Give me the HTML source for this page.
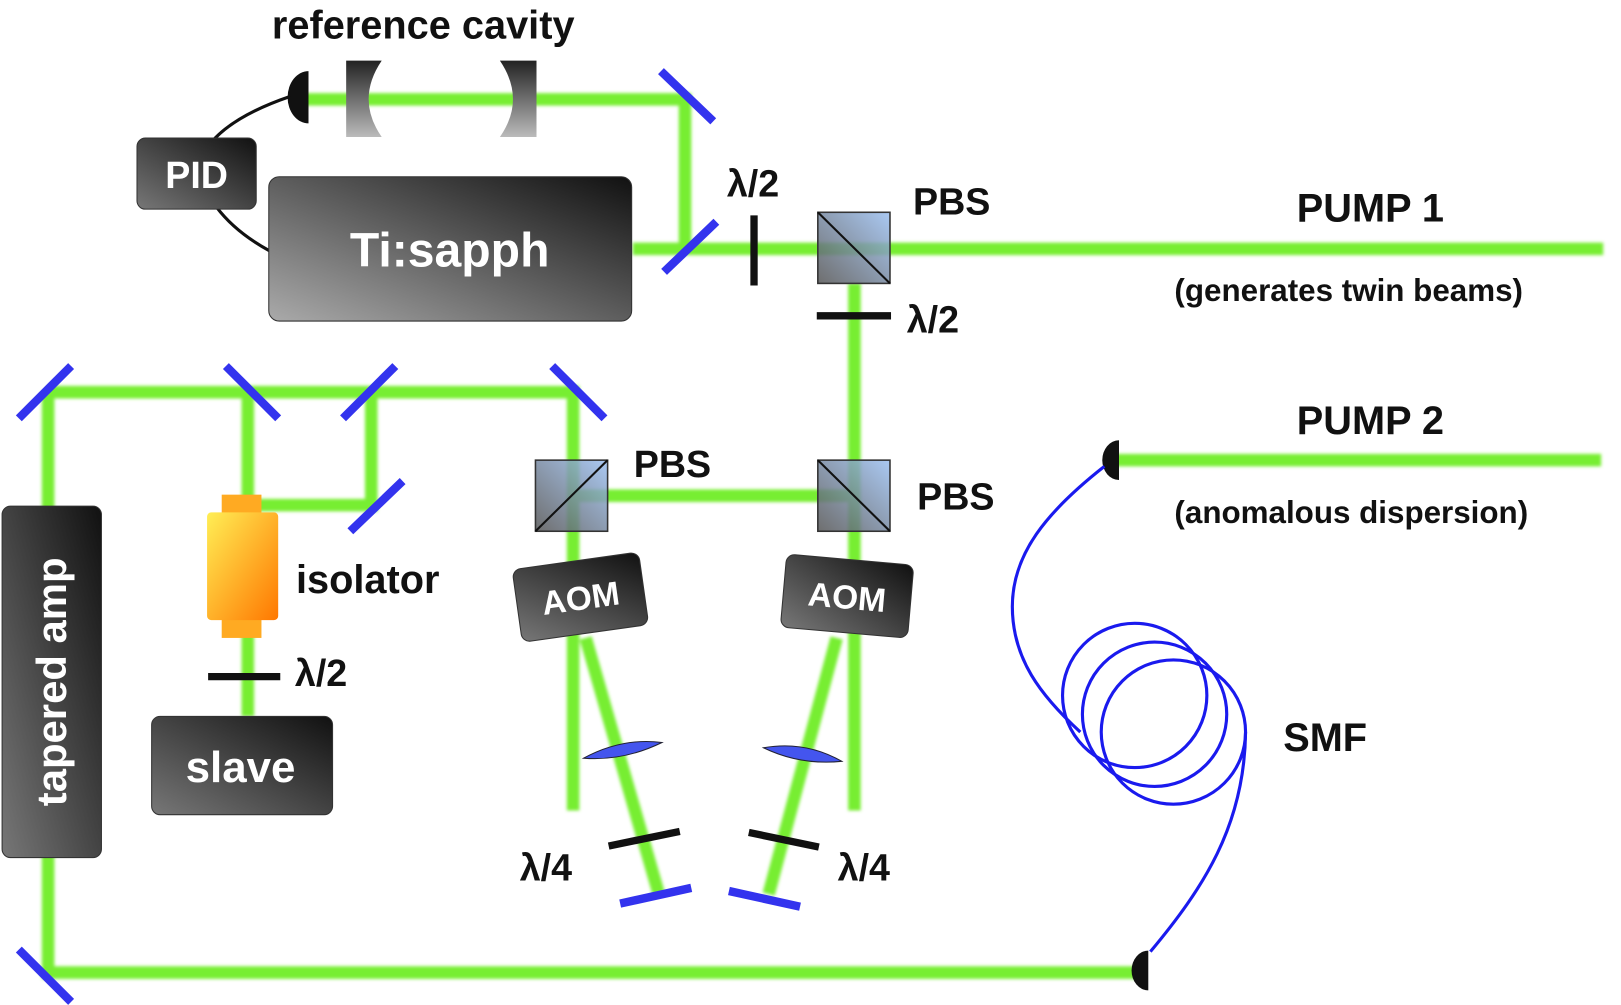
<!DOCTYPE html>
<html><head><meta charset="utf-8"><style>
html,body{margin:0;padding:0;background:#fff;}
svg{display:block;}
text{font-family:"Liberation Sans",sans-serif;font-weight:bold;}
</style></head><body>
<svg width="1621" height="1005" viewBox="0 0 1550 961" preserveAspectRatio="none" xmlns="http://www.w3.org/2000/svg">
<defs>
<linearGradient id="gb" x1="0" y1="1" x2="1" y2="0"><stop offset="0" stop-color="#aaa"/><stop offset="1" stop-color="#111"/></linearGradient>
<linearGradient id="gs" x1="0" y1="1" x2="1" y2="0"><stop offset="0" stop-color="#777"/><stop offset="1" stop-color="#111"/></linearGradient>
<linearGradient id="gi" x1="0" y1="0" x2="1" y2="1"><stop offset="0" stop-color="#ffee55"/><stop offset="1" stop-color="#ff7700"/></linearGradient>
<linearGradient id="gc" x1="0" y1="0" x2="0" y2="1"><stop offset="0" stop-color="#222"/><stop offset="1" stop-color="#bbb"/></linearGradient>
<linearGradient id="gp" x1="0" y1="1" x2="1" y2="0"><stop offset="0" stop-color="#555"/><stop offset="1" stop-color="#9bbff0"/></linearGradient>
<filter id="bl" x="-5%" y="-5%" width="110%" height="110%"><feGaussianBlur stdDeviation="1.5"/></filter>
</defs>
<g stroke="#77ee33" stroke-width="12" fill="none" filter="url(#bl)" stroke-linecap="butt">
<path d="M290 95 H655 V238"/>
<path d="M605 238 H1533"/>
<path d="M817 271 V775"/>
<path d="M547 474 H817"/>
<path d="M46 375 H548 V775"/>
<path d="M46 375 V930 H1090"/>
<path d="M237 375 V685"/>
<path d="M355 375 V483 H237"/>
<path d="M560 610 L630 855"/>
<path d="M800 610 L735 855"/>
<path d="M1065 440 H1531"/>
</g>
<!-- cavity -->
<path d="M331 58 H365 Q340 95 365 131 H331 Z" fill="url(#gc)"/>
<path d="M513 58 H478 Q503 95 478 131 H513 Z" fill="url(#gc)"/>
<!-- detectors -->
<path d="M295 68 A20 25 0 0 0 295 118 Z" fill="#111"/>
<path d="M1070 421 A16 19 0 0 0 1070 459 Z" fill="#111"/>
<path d="M1098 909 A16 19 0 0 0 1098 947 Z" fill="#111"/>
<!-- wires -->
<path d="M278 92 Q225 110 203 135" stroke="#111" stroke-width="3" fill="none"/>
<path d="M207 198 Q225 222 258 240" stroke="#111" stroke-width="3" fill="none"/>
<!-- boxes -->
<rect x="131" y="132" width="114" height="68" rx="8" fill="url(#gs)" stroke="#333"/>
<text x="188" y="180" font-size="36" fill="#fff" text-anchor="middle">PID</text>
<rect x="257" y="169" width="347" height="138" rx="10" fill="url(#gb)" stroke="#333"/>
<text x="430" y="255" font-size="46" fill="#fff" text-anchor="middle">Ti:sapph</text>
<rect x="2" y="484" width="95" height="336" rx="8" fill="url(#gs)" stroke="#333"/>
<text transform="translate(63,652) rotate(-90)" font-size="40" fill="#fff" text-anchor="middle">tapered amp</text>
<rect x="145" y="685" width="173" height="94" rx="8" fill="url(#gs)" stroke="#333"/>
<text x="230" y="748" font-size="42" fill="#fff" text-anchor="middle">slave</text>
<!-- isolator -->
<rect x="212" y="473" width="38" height="137" fill="#ffaa22"/>
<rect x="198" y="490" width="68" height="103" rx="4" fill="url(#gi)"/>
<text x="283" y="567" font-size="38" fill="#111">isolator</text>
<!-- AOMs -->
<g transform="translate(555,571) rotate(-8)"><rect x="-61" y="-35" width="122" height="70" rx="8" fill="url(#gs)" stroke="#333"/><text x="0" y="12" font-size="32" fill="#fff" text-anchor="middle">AOM</text></g>
<g transform="translate(810,570) rotate(5)"><rect x="-61" y="-35" width="122" height="70" rx="8" fill="url(#gs)" stroke="#333"/><text x="0" y="12" font-size="32" fill="#fff" text-anchor="middle">AOM</text></g>
<!-- lenses -->
<path d="M558 725 Q595 705 633 710 Q596 728 558 725 Z" fill="#4455ee" stroke="#223" stroke-width="1"/>
<path d="M730 715 Q770 708 805 728 Q765 732 730 715 Z" fill="#4455ee" stroke="#223" stroke-width="1"/>
<!-- mirrors -->
<g stroke="#3333ee" stroke-width="8">
<line x1="632" y1="68" x2="682" y2="116"/>
<line x1="635" y1="260" x2="685" y2="212"/>
<line x1="18" y1="400" x2="68" y2="350"/>
<line x1="216" y1="350" x2="266" y2="400"/>
<line x1="328" y1="400" x2="378" y2="350"/>
<line x1="528" y1="350" x2="578" y2="400"/>
<line x1="335" y1="508" x2="385" y2="460"/>
<line x1="593" y1="864" x2="661" y2="849"/>
<line x1="697" y1="852" x2="765" y2="867"/>
<line x1="18" y1="908" x2="68" y2="958"/>
</g>
<!-- PBS -->
<g fill="url(#gp)" fill-opacity="0.85" stroke="#333" stroke-width="1.5">
<rect x="782" y="203" width="69" height="68"/><rect x="782" y="440" width="69" height="68"/><rect x="512" y="440" width="69" height="68"/>
</g>
<g stroke="#111" stroke-width="2"><line x1="782" y1="203" x2="851" y2="271"/><line x1="782" y1="440" x2="851" y2="508"/><line x1="512" y1="508" x2="581" y2="440"/></g>
<!-- waveplates -->
<g stroke="#111" stroke-width="7">
<line x1="721" y1="206" x2="721" y2="273"/>
<line x1="781" y1="302" x2="852" y2="302"/>
<line x1="199" y1="647" x2="268" y2="647"/>
<line x1="582" y1="809" x2="650" y2="795"/>
<line x1="716" y1="796" x2="783" y2="810"/>
</g>
<!-- fiber -->
<g stroke="#1a1aee" stroke-width="3" fill="none">
<path d="M1056 446 C1000 490 968 530 968 580 C968 630 995 665 1033 700"/>
<circle cx="1085" cy="665" r="69"/>
<circle cx="1104" cy="683" r="69"/>
<circle cx="1122" cy="700" r="69"/>
<path d="M1191 700 C1190 790 1150 850 1100 910"/>
</g>
<!-- labels -->
<g fill="#111">
<text x="260" y="37" font-size="38">reference cavity</text>
<text x="695" y="188" font-size="36">λ/2</text>
<text x="873" y="205" font-size="36">PBS</text>
<text x="1240" y="212" font-size="38">PUMP 1</text>
<text x="1123" y="288" font-size="30">(generates twin beams)</text>
<text x="867" y="318" font-size="36">λ/2</text>
<text x="606" y="456" font-size="36">PBS</text>
<text x="877" y="487" font-size="36">PBS</text>
<text x="1240" y="415" font-size="38">PUMP 2</text>
<text x="1123" y="500" font-size="30">(anomalous dispersion)</text>
<text x="282" y="656" font-size="36">λ/2</text>
<text x="1227" y="718" font-size="38">SMF</text>
<text x="497" y="842" font-size="36">λ/4</text>
<text x="801" y="842" font-size="36">λ/4</text>
</g>
</svg>
</body></html>
